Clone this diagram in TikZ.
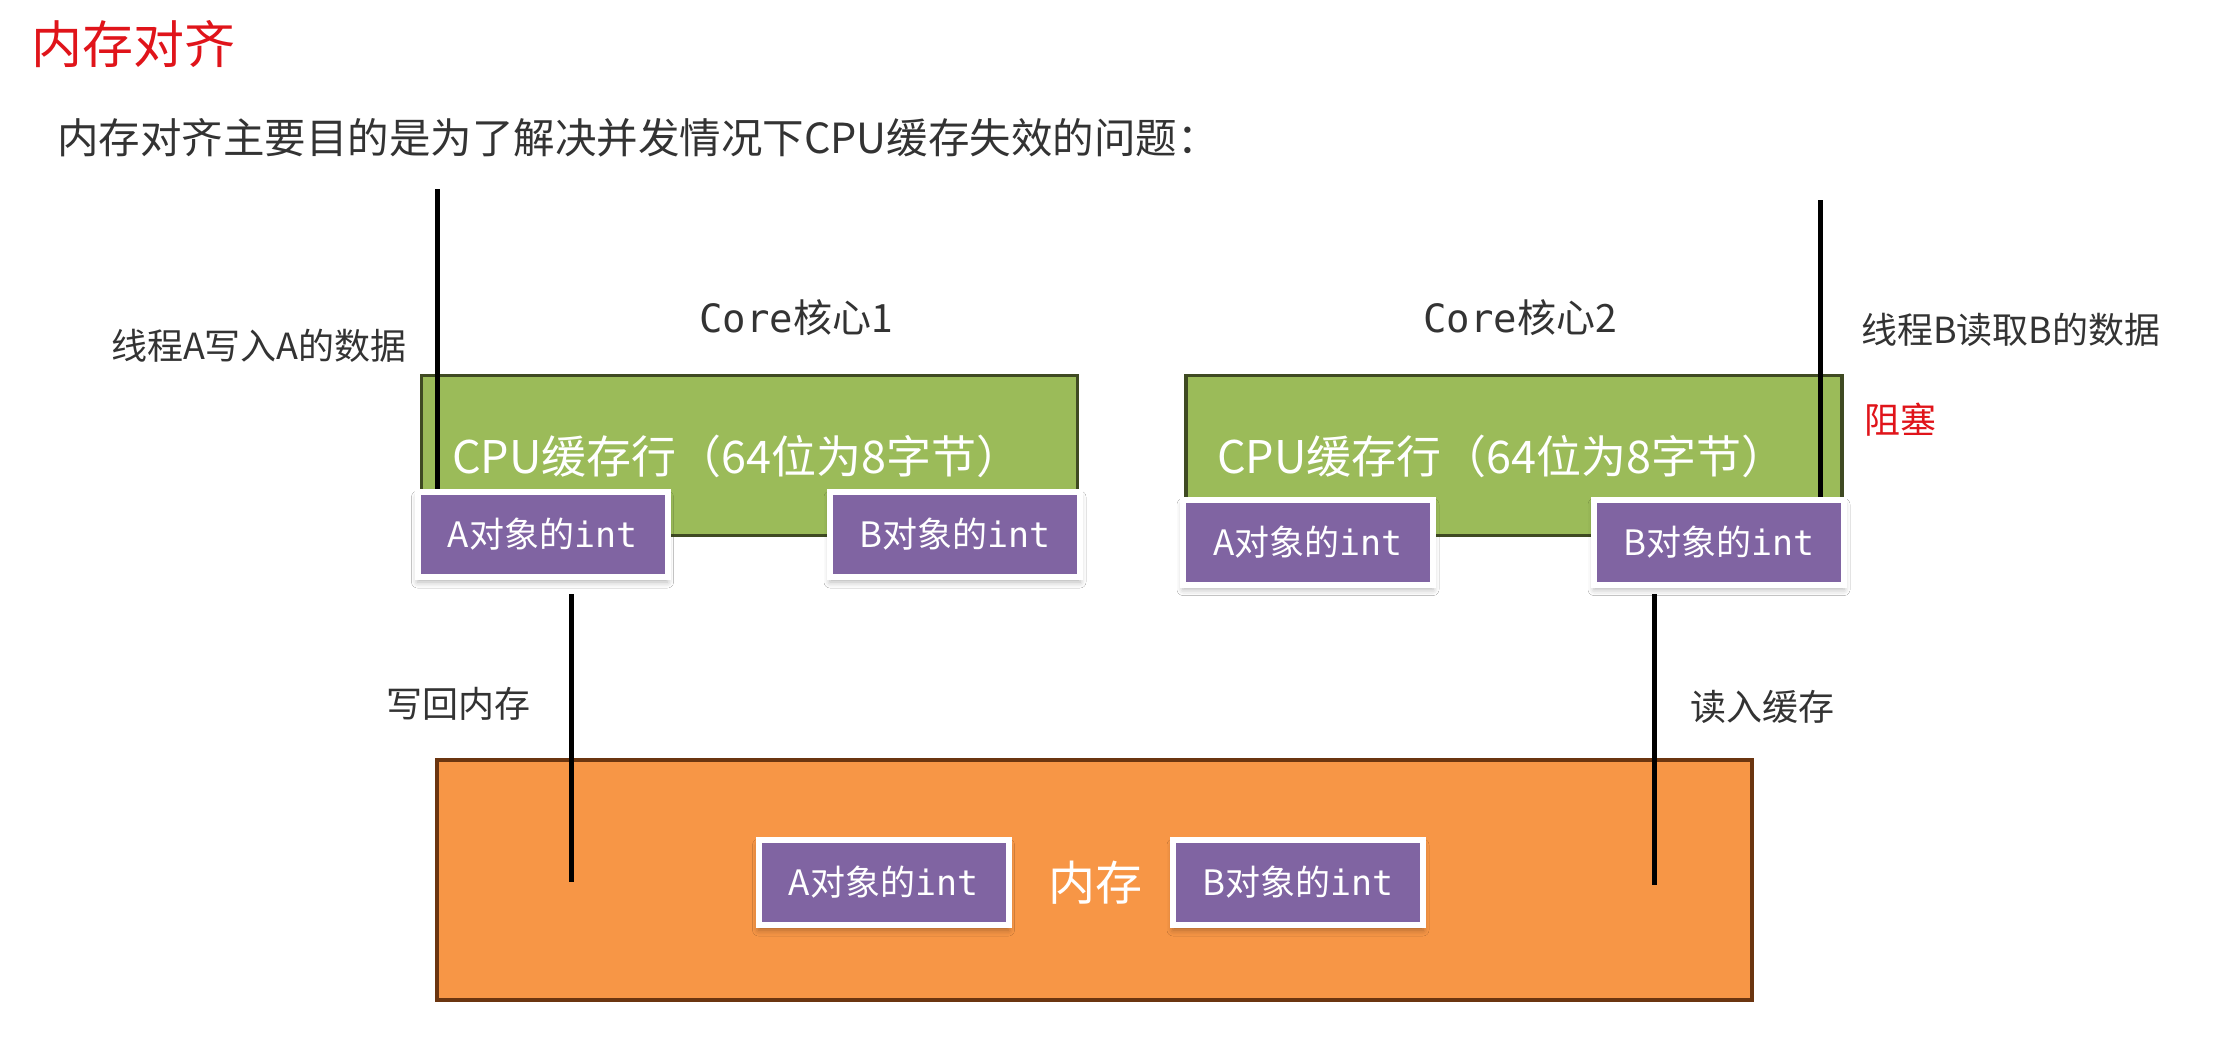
\documentclass[tikz,border=0pt]{standalone}
\usepackage{fontspec}
\setmainfont{Noto Sans CJK SC}
\newfontfamily\monof{DejaVu Sans Mono}
\usetikzlibrary{shadows.blur}
\definecolor{olivefill}{HTML}{9BBB59}
\definecolor{olivedraw}{HTML}{3F4A22}
\definecolor{orangefill}{HTML}{F79646}
\definecolor{orangedraw}{HTML}{6B3510}
\definecolor{purplefill}{HTML}{8064A2}
\definecolor{titlered}{HTML}{E0141A}
\definecolor{textgray}{HTML}{333333}
\tikzset{
  cacheline/.style={draw=olivedraw, fill=olivefill, line width=3.5pt, minimum width=656pt, minimum height=160pt, inner sep=0pt, text=white, font=\fontsize{45}{45}\selectfont},
  membox/.style={draw=orangedraw, fill=orangefill, line width=4pt, minimum width=1315pt, minimum height=240pt, inner sep=0pt},
  intbox/.style={draw=white, fill=purplefill, line width=6pt, minimum width=250pt, minimum height=85pt, inner sep=0pt, text=white, font=\fontsize{35}{35}\selectfont,
    blur shadow={shadow xshift=0pt, shadow yshift=-5pt, shadow blur radius=6pt, shadow opacity=30}},
  wire/.style={line width=5pt, black},
  lbl/.style={text=textgray, font=\fontsize{36}{36}\selectfont, inner sep=0pt},
  corelbl/.style={text=textgray, font=\fontsize{39}{39}\selectfont, inner sep=0pt},
}
\begin{document}
\begin{tikzpicture}[x=1pt,y=-1pt]
\useasboundingbox[fill=white] (0,0) rectangle (2223,1044);
% titles
\node[anchor=west, inner sep=0pt, text=titlered, font=\fontsize{51}{51}\selectfont] (title) at (31,44) {内存对齐};
\node[anchor=west, inner sep=0pt, text=textgray, font=\fontsize{41.5}{41.5}\selectfont] (sub) at (57,138) {内存对齐主要目的是为了解决并发情况下CPU缓存失效的问题：};
% cache lines
\node[cacheline] (c1) at (749.5,455.5) {};
\node[cacheline] (c2) at (1514,455.5) {};
\node[text=white, inner sep=0pt, font=\fontsize{45}{45}\selectfont] (c1t) at (737,456) {CPU缓存行（64位为8字节）};
\node[text=white, inner sep=0pt, font=\fontsize{45}{45}\selectfont] (c2t) at (1502,456) {CPU缓存行（64位为8字节）};
\node[corelbl] (core1) at (796,318) {{\monof Core}核心1};
\node[corelbl] (core2) at (1520,318) {{\monof Core}核心2};
% int boxes on cache lines
\node[intbox] (a1) at (542.5,534.5) {A对象的{\monof int}};
\node[intbox] (b1) at (955,534.5) {B对象的{\monof int}};
\node[intbox] (a2) at (1308,542) {A对象的{\monof int}};
\node[intbox] (b2) at (1719,542) {B对象的{\monof int}};
% memory
\node[membox] (mem) at (1094.5,880) {};
\node[intbox] (am) at (883.5,882.5) {A对象的{\monof int}};
\node[text=white, inner sep=0pt, font=\fontsize{47}{47}\selectfont] (memlbl) at (1095,883) {内存};
\node[intbox] (bm) at (1298,882.5) {B对象的{\monof int}};
% labels
\node[lbl, anchor=east] (ta) at (407,346) {线程A写入A的数据};
\node[lbl, anchor=west] (tb) at (1861,330) {线程B读取B的数据};
\node[lbl, anchor=west, text=titlered] (blk) at (1864,420) {阻塞};
\node[lbl, anchor=west] (wb) at (386,704) {写回内存};
\node[lbl, anchor=west] (rd) at (1690,707) {读入缓存};
% wires
\coordinate (w1top) at (437,189);
\coordinate (w2top) at (1820,200);
\coordinate (w3top) at (571,594);
\coordinate (w3bot) at (571,882);
\coordinate (w4top) at (1654,594);
\coordinate (w4bot) at (1654,885);
\draw[wire] (w1top) -- (w1top |- a1.north);
\draw[wire] (w2top) -- (w2top |- b2.north);
\draw[wire] (w3top) -- (w3bot);
\draw[wire] (w4top) -- (w4bot);
\end{tikzpicture}
\end{document}
